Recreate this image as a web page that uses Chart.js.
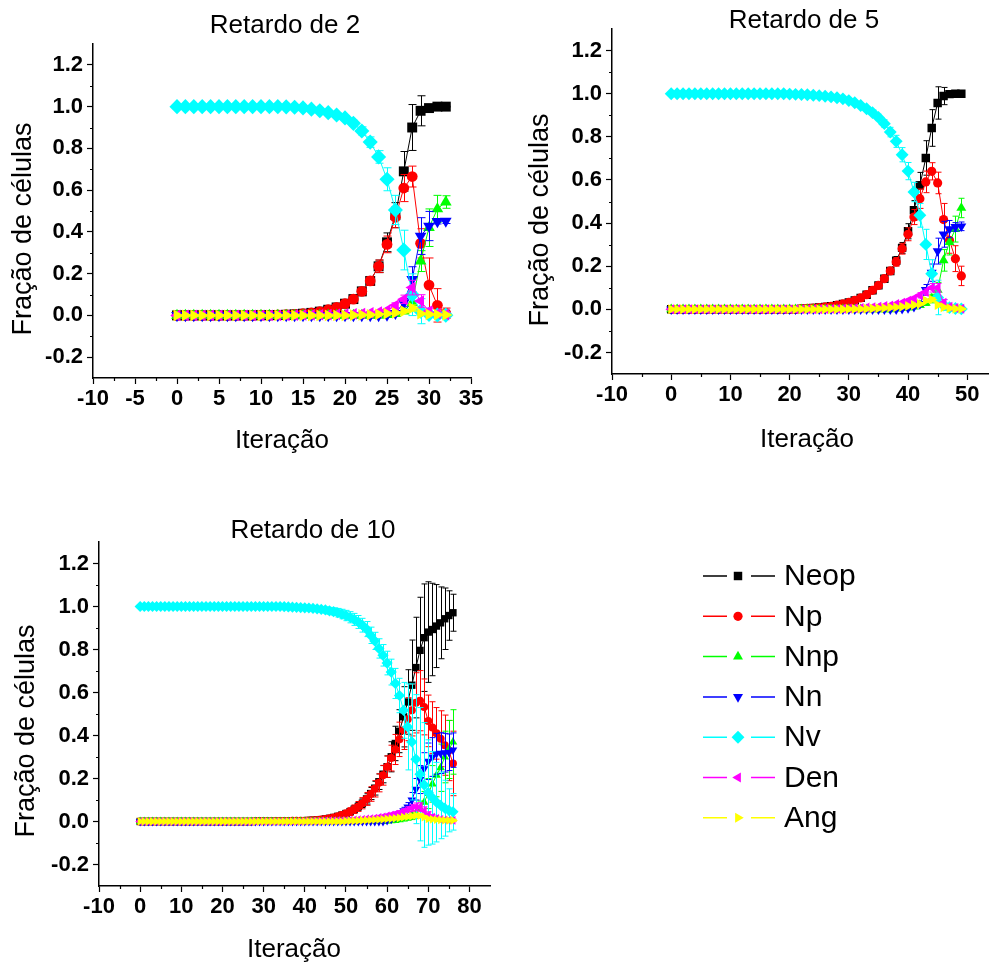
<!DOCTYPE html>
<html>
<head>
<meta charset="utf-8">
<script src="https://cdn.jsdelivr.net/npm/chart.js"></script>
<style>
body{margin:0;background:#fff;width:995px;height:967px;overflow:hidden;position:relative}
canvas{position:absolute}
</style>
</head>
<body>
<canvas id="r2" width="500" height="470" style="left:0;top:0"></canvas>
<canvas id="r5" width="495" height="470" style="left:500px;top:0"></canvas>
<canvas id="r10" width="500" height="467" style="left:0;top:500px"></canvas>
<canvas id="key" width="220" height="290" style="left:680px;top:550px"></canvas>
<script>
'use strict';
// ---------- data ----------
const seriesNames = ['Neop','Np','Nnp','Nn','Nv','Den','Ang'];
const yTicks = [-0.2,0,0.2,0.4,0.6,0.8,1.0,1.2];
const xTicksR2 = [-10,-5,0,5,10,15,20,25,30,35];
const xTicksR5 = [-10,0,10,20,30,40,50];
const xTicksR10 = [-10,0,10,20,30,40,50,60,70,80];

// Retardo de 2
const iterR2 = [0,1,2,3,4,5,6,7,8,9,10,11,12,13,14,15,16,17,18,19,20,21,22,23,24,25,26,27,28,29,30,31,32];
const neopR2 = [0,0,0,0,0,0,0,0,0,0,
 0.001,0.001,0.002,0.003,0.005,0.008,0.012,0.018,0.027,0.038,
 0.056,0.078,0.115,0.165,0.235,0.35,0.48,0.69,0.9,0.98,
 0.993,1,1];
const neopErrR2 = [0,0,0,0,0,0,0,0,0,0,
 0,0,0,0,0,0,0,0,0.003,0.004,
 0.005,0.008,0.012,0.02,0.03,0.045,0.06,0.095,0.11,0.072,
 0.015,0.004,0.002];
const npR2 = [0,0,0,0,0,0,0,0,0,0,
 0.001,0.001,0.002,0.003,0.005,0.008,0.012,0.018,0.027,0.038,
 0.056,0.078,0.115,0.165,0.235,0.34,0.47,0.61,0.665,0.345,
 0.145,0.048,0.01];
const npErrR2 = [0,0,0,0,0,0,0,0,0,0,
 0,0,0,0.005,0.005,0.005,0.005,0.006,0.006,0.007,
 0.008,0.01,0.014,0.02,0.03,0.04,0.05,0.065,0.05,0.07,
 0.13,0.08,0.025];
const nnpR2 = [0,0,0,0,0,0,0,0,0,0,
 0,0,0,0,0,0,0,0,0,0,
 0,0,0,0,0,0.003,0.008,0.02,0.06,0.26,
 0.42,0.51,0.543];
const nnpErrR2 = [0,0,0,0,0,0,0,0,0,0,
 0,0,0,0,0,0,0,0,0,0,
 0,0,0,0,0,0.002,0.004,0.01,0.03,0.05,
 0.09,0.065,0.03];
const nnR2 = [0,0,0,0,0,0,0,0,0,0,
 0,0,0,0,0,0,0,0,0,0,
 0,0,0,0,0,0.002,0.01,0.061,0.173,0.38,
 0.428,0.45,0.452];
const nnErrR2 = [0,0,0,0,0,0,0,0,0,0,
 0,0,0,0,0,0,0,0,0,0,
 0,0,0,0,0,0.002,0.005,0.02,0.06,0.088,
 0.07,0.012,0.012];
const nvR2 = [1,1,1,1,1,1,1,1,1,1,
 1,1,1,0.999,0.997,0.994,0.988,0.98,0.971,0.96,
 0.946,0.92,0.883,0.83,0.759,0.652,0.505,0.313,0.099,0.02,
 0.005,0.002,0.001];
const nvErrR2 = [0,0,0,0,0,0,0,0,0,0,
 0,0,0,0,0,0,0.003,0.005,0.007,0.01,
 0.012,0.015,0.02,0.025,0.03,0.055,0.07,0.095,0.1,0.06,
 0.01,0.005,0.003];
const denR2 = [0,0,0,0,0,0,0,0,0,0,
 0,0,0,0,0.001,0.002,0.002,0.003,0.004,0.005,
 0.006,0.007,0.009,0.012,0.016,0.025,0.048,0.077,0.133,0.069,
 0.02,0.008,0.004];
const denErrR2 = [0,0,0,0,0,0,0,0,0,0,
 0,0,0,0,0,0,0,0,0,0,
 0,0,0,0,0.005,0.008,0.012,0.02,0.035,0.03,
 0.015,0.01,0.008];
const angR2 = [0,0,0,0,0,0,0,0,0,0,
 0,0,0,0,0,0,0,0,0,0,
 0,0.001,0.002,0.003,0.005,0.008,0.012,0.02,0.035,0.008,
 0.005,0.003,0.002];
const angErrR2 = [0,0,0,0,0,0,0,0,0,0,
 0,0,0,0,0,0,0,0,0,0,
 0,0,0,0,0,0,0.005,0.008,0.015,0.005,
 0.004,0.003,0.003];

// Retardo de 5
const iterR5 = [0,1,2,3,4,5,6,7,8,9,10,11,12,13,14,15,16,17,18,19,20,21,22,23,24,25,26,27,28,29,
 30,31,32,33,34,35,36,37,38,39,40,41,42,43,44,45,46,47,48,49];
const neopR5 = [0,0,0,0,0,0,0,0,0,0,
 0,0,0,0,0,0,0,0,0,0,
 0,0,0.003,0.004,0.006,0.008,0.011,0.014,0.019,0.025,
 0.032,0.041,0.053,0.068,0.088,0.111,0.142,0.178,0.225,0.285,
 0.362,0.459,0.575,0.702,0.841,0.957,0.989,0.998,1,1];
const neopErrR5 = [0,0,0,0,0,0,0,0,0,0,
 0,0,0,0,0,0,0,0,0,0,
 0,0,0,0,0,0,0,0,0.002,0.003,
 0.003,0.004,0.005,0.006,0.008,0.01,0.012,0.015,0.02,0.025,
 0.035,0.045,0.06,0.08,0.085,0.075,0.04,0.008,0.004,0.002];
const npR5 = [0,0,0,0,0,0,0,0,0,0,
 0,0,0,0,0,0,0,0,0,0,
 0,0,0.003,0.004,0.006,0.008,0.011,0.014,0.019,0.025,
 0.032,0.041,0.053,0.068,0.088,0.111,0.142,0.178,0.22,0.281,
 0.348,0.428,0.513,0.591,0.64,0.586,0.416,0.32,0.235,0.155];
const npErrR5 = [0,0,0,0,0,0,0,0,0,0,
 0,0,0,0,0,0,0,0,0,0,
 0,0,0.004,0.004,0.004,0.004,0.004,0.004,0.005,0.005,
 0.005,0.006,0.007,0.008,0.009,0.01,0.012,0.015,0.02,0.025,
 0.03,0.035,0.045,0.05,0.04,0.05,0.075,0.06,0.06,0.045];
const nnpR5 = [0,0,0,0,0,0,0,0,0,0,
 0,0,0,0,0,0,0,0,0,0,
 0,0,0,0,0,0,0,0,0,0,
 0,0,0,0,0,0,0,0,0.003,0.005,
 0.008,0.012,0.02,0.03,0.05,0.09,0.227,0.312,0.372,0.47];
const nnpErrR5 = [0,0,0,0,0,0,0,0,0,0,
 0,0,0,0,0,0,0,0,0,0,
 0,0,0,0,0,0,0,0,0,0,
 0,0,0,0,0,0,0,0,0.002,0.003,
 0.004,0.005,0.008,0.012,0.02,0.035,0.05,0.06,0.06,0.045];
const nnR5 = [0,0,0,0,0,0,0,0,0,0,
 0,0,0,0,0,0,0,0,0,0,
 0,0,0,0,0,0,0,0,0,0,
 0,0,0,0,0,0,0,0,0,0.003,
 0.006,0.012,0.025,0.09,0.17,0.27,0.348,0.372,0.382,0.385];
const nnErrR5 = [0,0,0,0,0,0,0,0,0,0,
 0,0,0,0,0,0,0,0,0,0,
 0,0,0,0,0,0,0,0,0,0,
 0,0,0,0,0,0,0,0,0,0.002,
 0.003,0.005,0.01,0.025,0.04,0.06,0.06,0.04,0.02,0.02];
const nvR5 = [1,1,1,1,1,1,1,1,1,1,
 1,1,1,1,1,1,1,1,1,1,
 0.998,0.997,0.996,0.995,0.993,0.991,0.988,0.985,0.981,0.976,
 0.968,0.958,0.945,0.93,0.912,0.89,0.861,0.822,0.779,0.717,
 0.641,0.544,0.436,0.301,0.165,0.055,0.02,0.008,0.004,0.002];
const nvErrR5 = [0,0,0,0,0,0,0,0,0,0,
 0,0,0,0,0,0,0,0,0,0,
 0,0,0,0,0,0.002,0.002,0.003,0.003,0.004,
 0.005,0.006,0.008,0.01,0.012,0.015,0.018,0.022,0.028,0.033,
 0.04,0.045,0.055,0.07,0.065,0.08,0.025,0.01,0.005,0.003];
const denR5 = [0,0,0,0,0,0,0,0,0,0,
 0,0,0,0,0,0,0,0,0,0,
 0,0,0,0,0,0,0.001,0.002,0.002,0.003,
 0.004,0.005,0.006,0.008,0.01,0.012,0.015,0.018,0.025,0.03,
 0.04,0.05,0.065,0.08,0.1,0.1,0.03,0.012,0.006,0.003];
const denErrR5 = [0,0,0,0,0,0,0,0,0,0,
 0,0,0,0,0,0,0,0,0,0,
 0,0,0,0,0,0,0,0,0,0,
 0,0,0,0,0,0,0,0,0.005,0.006,
 0.008,0.01,0.012,0.015,0.02,0.02,0.015,0.01,0.008,0.005];
const angR5 = [0,0,0,0,0,0,0,0,0,0,
 0,0,0,0,0,0,0,0,0,0,
 0,0,0,0,0,0,0,0,0,0,
 0.001,0.002,0.002,0.003,0.004,0.005,0.006,0.008,0.01,0.012,
 0.015,0.02,0.025,0.04,0.045,0.02,0.01,0.005,0.003,0.002];
const angErrR5 = [0,0,0,0,0,0,0,0,0,0,
 0,0,0,0,0,0,0,0,0,0,
 0,0,0,0,0,0,0,0,0,0,
 0,0,0,0,0,0,0,0,0,0,
 0,0,0.005,0.008,0.01,0.008,0.005,0.003,0.002,0.002];

// Retardo de 10
const iterR10 = [0,1,2,3,4,5,6,7,8,9,10,11,12,13,14,15,16,17,18,19,20,21,22,23,24,25,26,27,28,29,
 30,31,32,33,34,35,36,37,38,39,40,41,42,43,44,45,46,47,48,49,50,51,52,53,54,55,56,57,58,59,
 60,61,62,63,64,65,66,67,68,69,70,71,72,73,74,75,76];
const neopR10 = [0,0,0,0,0,0,0,0,0,0,
 0,0,0,0,0,0,0,0,0,0,
 0,0,0,0,0,0,0,0,0.001,0.001,
 0.001,0.001,0.001,0.002,0.002,0.002,0.002,0.003,0.003,0.003,
 0.004,0.005,0.006,0.007,0.009,0.012,0.015,0.019,0.024,0.03,
 0.037,0.046,0.057,0.07,0.085,0.105,0.13,0.155,0.185,0.22,
 0.255,0.301,0.363,0.42,0.487,0.556,0.634,0.716,0.796,0.855,
 0.881,0.893,0.909,0.924,0.943,0.958,0.971];
const neopErrR10 = [0,0,0,0,0,0,0,0,0,0,
 0,0,0,0,0,0,0,0,0,0,
 0,0,0,0,0,0,0,0,0,0,
 0,0,0,0,0,0,0,0,0,0,
 0.002,0.002,0.003,0.003,0.004,0.005,0.006,0.007,0.008,0.01,
 0.012,0.014,0.016,0.018,0.02,0.024,0.028,0.032,0.036,0.04,
 0.05,0.07,0.08,0.1,0.14,0.15,0.21,0.234,0.247,0.25,
 0.234,0.215,0.193,0.167,0.143,0.115,0.086];
const npR10 = [0,0,0,0,0,0,0,0,0,0,
 0,0,0,0,0,0,0,0,0,0,
 0,0,0,0,0,0,0,0,0.001,0.001,
 0.001,0.001,0.001,0.002,0.002,0.002,0.002,0.003,0.003,0.003,
 0.004,0.005,0.006,0.007,0.009,0.012,0.015,0.019,0.024,0.03,
 0.037,0.046,0.057,0.07,0.085,0.105,0.128,0.152,0.18,0.215,
 0.255,0.295,0.335,0.382,0.425,0.476,0.518,0.552,0.562,0.533,
 0.468,0.437,0.41,0.385,0.355,0.33,0.27];
const npErrR10 = [0,0,0,0,0,0,0,0,0,0,
 0,0,0,0,0,0,0,0,0,0,
 0,0,0,0,0,0,0,0,0.004,0.004,
 0.004,0.004,0.004,0.004,0.004,0.004,0.004,0.005,0.005,0.005,
 0.005,0.006,0.006,0.007,0.008,0.009,0.01,0.011,0.012,0.014,
 0.016,0.018,0.02,0.023,0.026,0.03,0.034,0.038,0.042,0.046,
 0.05,0.06,0.07,0.08,0.09,0.1,0.12,0.14,0.14,0.13,
 0.12,0.12,0.12,0.13,0.14,0.14,0.15];
const nnpR10 = [0,0,0,0,0,0,0,0,0,0,
 0,0,0,0,0,0,0,0,0,0,
 0,0,0,0,0,0,0,0,0,0,
 0,0,0,0,0,0,0,0,0,0,
 0,0,0,0,0,0,0,0,0,0,
 0,0,0,0,0,0.001,0.001,0.001,0.001,0.001,
 0.002,0.003,0.005,0.008,0.012,0.018,0.027,0.04,0.06,0.09,
 0.13,0.175,0.215,0.25,0.3,0.335,0.37];
const nnpErrR10 = [0,0,0,0,0,0,0,0,0,0,
 0,0,0,0,0,0,0,0,0,0,
 0,0,0,0,0,0,0,0,0,0,
 0,0,0,0,0,0,0,0,0,0,
 0,0,0,0,0,0,0,0,0,0,
 0,0,0,0,0,0,0,0,0,0,
 0.002,0.003,0.004,0.006,0.008,0.012,0.018,0.025,0.035,0.05,
 0.07,0.085,0.1,0.11,0.12,0.135,0.15];
const nnR10 = [0,0,0,0,0,0,0,0,0,0,
 0,0,0,0,0,0,0,0,0,0,
 0,0,0,0,0,0,0,0,0,0,
 0,0,0,0,0,0,0,0,0,0,
 0,0,0,0,0,0,0,0,0,0,
 0,0,0,0,0,0,0,0,0,0,
 0.005,0.01,0.02,0.035,0.05,0.068,0.1,0.15,0.195,0.245,
 0.28,0.3,0.315,0.318,0.32,0.322,0.332];
const nnErrR10 = [0,0,0,0,0,0,0,0,0,0,
 0,0,0,0,0,0,0,0,0,0,
 0,0,0,0,0,0,0,0,0,0,
 0,0,0,0,0,0,0,0,0,0,
 0,0,0,0,0,0,0,0,0,0,
 0,0,0,0,0,0,0,0,0,0,
 0.003,0.005,0.008,0.012,0.016,0.02,0.035,0.05,0.065,0.075,
 0.085,0.09,0.095,0.095,0.09,0.085,0.08];
const nvR10 = [1,1,1,1,1,1,1,1,1,1,
 1,1,1,1,1,1,1,1,1,1,
 1,1,1,1,1,1,1,1,1,1,
 1,1,1,1,1,0.999,0.998,0.997,0.996,0.995,
 0.994,0.993,0.991,0.989,0.987,0.984,0.98,0.976,0.971,0.965,
 0.958,0.95,0.94,0.928,0.913,0.895,0.866,0.84,0.805,0.773,
 0.737,0.695,0.642,0.586,0.517,0.44,0.37,0.29,0.22,0.17,
 0.135,0.11,0.09,0.075,0.062,0.052,0.045];
const nvErrR10 = [0,0,0,0,0,0,0,0,0,0,
 0,0,0,0,0,0,0,0,0,0,
 0,0,0,0,0,0,0,0,0,0,
 0,0,0,0,0,0.002,0.003,0.004,0.005,0.006,
 0.007,0.008,0.009,0.01,0.012,0.014,0.016,0.018,0.02,0.022,
 0.024,0.026,0.028,0.03,0.032,0.035,0.038,0.04,0.045,0.05,
 0.055,0.06,0.07,0.08,0.13,0.2,0.27,0.3,0.31,0.29,
 0.245,0.215,0.185,0.155,0.13,0.1,0.085];
const denR10 = [0,0,0,0,0,0,0,0,0,0,
 0,0,0,0,0,0,0,0,0,0,
 0,0,0,0,0,0,0,0,0,0,
 0,0,0,0,0,0,0,0,0,0,
 0.001,0.001,0.002,0.002,0.003,0.003,0.004,0.004,0.005,0.005,
 0.006,0.007,0.008,0.009,0.01,0.012,0.014,0.016,0.019,0.022,
 0.026,0.03,0.035,0.04,0.047,0.055,0.062,0.068,0.067,0.05,
 0.03,0.02,0.015,0.01,0.008,0.006,0.005];
const denErrR10 = [0,0,0,0,0,0,0,0,0,0,
 0,0,0,0,0,0,0,0,0,0,
 0,0,0,0,0,0,0,0,0,0,
 0,0,0,0,0,0,0,0,0,0,
 0,0,0,0,0,0,0,0,0,0,
 0.003,0.003,0.004,0.004,0.005,0.005,0.006,0.006,0.007,0.007,
 0.008,0.009,0.01,0.011,0.012,0.014,0.016,0.018,0.02,0.018,
 0.015,0.012,0.01,0.008,0.007,0.006,0.006];
const angR10 = [0,0,0,0,0,0,0,0,0,0,
 0,0,0,0,0,0,0,0,0,0,
 0,0,0,0,0,0,0,0,0,0,
 0,0,0,0,0,0,0,0,0,0,
 0,0,0,0,0,0,0,0,0,0,
 0.002,0.003,0.003,0.004,0.005,0.006,0.007,0.008,0.009,0.01,
 0.012,0.013,0.015,0.017,0.02,0.022,0.025,0.028,0.027,0.02,
 0.012,0.01,0.008,0.007,0.006,0.005,0.005];
const angErrR10 = [0,0,0,0,0,0,0,0,0,0,
 0,0,0,0,0,0,0,0,0,0,
 0,0,0,0,0,0,0,0,0,0,
 0,0,0,0,0,0,0,0,0,0,
 0,0,0,0,0,0,0,0,0,0,
 0,0,0,0,0,0.002,0.002,0.003,0.003,0.003,
 0.004,0.004,0.005,0.005,0.006,0.006,0.007,0.008,0.008,0.007,
 0.006,0.005,0.005,0.005,0.005,0.005,0.005];

// ---------- styles ----------
const FONT = '"Liberation Sans", Arial, sans-serif';
const seriesColors = ['#000000','#ff0000','#00ff00','#0000ff','#00ffff','#ff00ff','#ffff00'];
const pointStyles = ['rect','circle','triangle','triangle','rectRot','triangle','triangle'];
const pointRotations = [0,0,0,180,0,-90,90];
const pointScale = [1.3,1,1.25,1.25,1.4,1.25,1.25];

// error bars, drawn under each dataset's own markers
const errorBars = {
  id: 'errorBars',
  beforeDatasetDraw(chart, args, opts) {
    const ds = chart.data.datasets[args.index];
    if (!ds.errors) return;
    const ctx = chart.ctx, ys = chart.scales.y, cap = opts.cap || 4;
    ctx.save();
    ctx.strokeStyle = ds.borderColor;
    ctx.lineWidth = 1;
    ctx.beginPath();
    args.meta.data.forEach((el, i) => {
      const e = ds.errors[i];
      if (!e) return;
      const v = ds.data[i].y;
      const top = ys.getPixelForValue(v + e), bot = ys.getPixelForValue(v - e);
      const px = Math.round(el.x) + 0.5;
      ctx.moveTo(px, top); ctx.lineTo(px, bot);
      ctx.moveTo(px - cap, top); ctx.lineTo(px + cap, top);
      ctx.moveTo(px - cap, bot); ctx.lineTo(px + cap, bot);
    });
    ctx.stroke();
    ctx.restore();
  }
};

// minor ticks halfway between the labelled ones
const minorTicks = {
  id: 'minorTicks',
  afterDraw(chart, args, opts) {
    const ctx = chart.ctx, len = opts.length || 3;
    ctx.save();
    ctx.strokeStyle = '#000';
    ctx.lineWidth = 1.2;
    ctx.beginPath();
    ['x', 'y'].forEach(id => {
      const s = chart.scales[id];
      const vals = s.ticks.map(t => t.value);
      const step = vals[1] - vals[0];
      const mids = vals.map(v => v + step / 2).concat([vals[0] - step / 2]);
      mids.forEach(m => {
        if (m <= s.min + 1e-9 || m >= s.max - 1e-9) return;
        const p = Math.round(s.getPixelForValue(m)) + 0.5;
        if (id === 'x') { ctx.moveTo(p, s.top); ctx.lineTo(p, s.top + len); }
        else { ctx.moveTo(s.right, p); ctx.lineTo(s.right - len, p); }
      });
    });
    ctx.stroke();
    ctx.restore();
  }
};

// panel title and axis titles
const panelText = {
  id: 'panelText',
  afterDraw(chart, args, o) {
    const ctx = chart.ctx;
    ctx.save();
    ctx.fillStyle = '#000';
    ctx.textAlign = 'center';
    ctx.textBaseline = 'middle';
    ctx.font = '26px ' + FONT;
    ctx.fillText(o.title, o.titleX, o.titleY);
    ctx.fillText('Iteração', o.xTitleX, o.xTitleY);
    ctx.translate(o.yTitleX, o.yTitleY);
    ctx.rotate(-Math.PI / 2);
    ctx.font = '27px ' + FONT;
    ctx.fillText('Fração de células', 0, 0);
    ctx.restore();
  }
};

function makePanel(id, p) {
  const datasets = p.values.map((vals, k) => ({
    label: seriesNames[k],
    data: p.iters.map((x, i) => ({x: x, y: vals[i]})),
    errors: p.errors[k],
    borderColor: seriesColors[k],
    backgroundColor: seriesColors[k],
    pointBackgroundColor: seriesColors[k],
    pointBorderColor: seriesColors[k],
    pointBorderWidth: 0,
    pointStyle: pointStyles[k],
    pointRotation: pointRotations[k],
    pointRadius: p.radius * pointScale[k],
    borderWidth: 1,
    tension: 0,
    order: 7 - k
  }));
  const tickFont = {family: FONT, size: 22, weight: 'bold'};
  const grid = {display: true, drawOnChartArea: false, drawTicks: true, tickLength: 6, tickColor: '#000', tickWidth: 1.2};
  return new Chart(document.getElementById(id), {
    type: 'line',
    data: {datasets: datasets},
    options: {
      responsive: false,
      animation: false,
      devicePixelRatio: 1,
      events: [],
      layout: {padding: p.padding},
      scales: {
        x: {
          type: 'linear', min: p.xMin, max: p.xMax,
          afterBuildTicks: s => { s.ticks = p.xTicks.map(v => ({value: v})); },
          afterFit: s => { s.height = p.xH; },
          grid: grid,
          border: {display: true, color: '#000', width: 1.5},
          ticks: {color: '#000', font: tickFont, padding: 2, autoSkip: false, maxRotation: 0,
                  callback: v => String(v)}
        },
        y: {
          type: 'linear', min: -0.3, max: 1.3,
          afterBuildTicks: s => { s.ticks = yTicks.map(v => ({value: v})); },
          afterFit: s => { s.width = p.yW; },
          grid: grid,
          border: {display: true, color: '#000', width: 1.5},
          ticks: {color: '#000', font: tickFont, padding: 4, callback: v => v.toFixed(1)}
        }
      },
      plugins: {
        legend: {display: false},
        tooltip: {enabled: false},
        errorBars: {cap: p.cap},
        minorTicks: {length: 3},
        panelText: p.text
      }
    },
    plugins: [errorBars, minorTicks, panelText]
  });
}

makePanel('r2', {
  iters: iterR2,
  values: [neopR2, npR2, nnpR2, nnR2, nvR2, denR2, angR2],
  errors: [neopErrR2, npErrR2, nnpErrR2, nnErrR2, nvErrR2, denErrR2, angErrR2],
  xMin: -10, xMax: 35, xTicks: xTicksR2,
  padding: {top: 44, right: 29, bottom: 0, left: 0}, yW: 93, xH: 92,
  radius: 5.4, cap: 4,
  text: {title: 'Retardo de 2', titleX: 285, titleY: 26, xTitleX: 282, xTitleY: 441, yTitleX: 24, yTitleY: 229}
});
makePanel('r5', {
  iters: iterR5,
  values: [neopR5, npR5, nnpR5, nnR5, nvR5, denR5, angR5],
  errors: [neopErrR5, npErrR5, nnpErrR5, nnErrR5, nvErrR5, denErrR5, angErrR5],
  xMin: -10, xMax: 53.6, xTicks: xTicksR5,
  padding: {top: 29, right: 0, bottom: 0, left: 0}, yW: 112, xH: 96,
  radius: 4.6, cap: 3,
  text: {title: 'Retardo de 5', titleX: 304, titleY: 21, xTitleX: 307, xTitleY: 440, yTitleX: 41, yTitleY: 220}
});
makePanel('r10', {
  iters: iterR10,
  values: [neopR10, npR10, nnpR10, nnR10, nvR10, denR10, angR10],
  errors: [neopErrR10, npErrR10, nnpErrR10, nnErrR10, nvErrR10, denErrR10, angErrR10],
  xMin: -10, xMax: 85, xTicks: xTicksR10,
  padding: {top: 42, right: 10, bottom: 0, left: 0}, yW: 99, xH: 81,
  radius: 4, cap: 3,
  text: {title: 'Retardo de 10', titleX: 313, titleY: 31, xTitleX: 294, xTitleY: 450, yTitleX: 27, yTitleY: 231}
});

// ---------- key ----------
const seriesKey = {
  id: 'seriesKey',
  afterDraw(chart, args, o) {
    const ctx = chart.ctx;
    const draw = (Chart.helpers && Chart.helpers.drawPoint) ? Chart.helpers.drawPoint : null;
    chart.data.datasets.forEach((ds, i) => {
      const y = o.top + i * o.step;
      ctx.save();
      ctx.strokeStyle = ds.borderColor;
      ctx.lineWidth = 1.5;
      ctx.beginPath();
      ctx.moveTo(o.x0, y); ctx.lineTo(o.x1, y);
      ctx.moveTo(o.x2, y); ctx.lineTo(o.x3, y);
      ctx.stroke();
      ctx.fillStyle = ds.pointBackgroundColor;
      if (draw) {
        draw(ctx, {pointStyle: ds.pointStyle, rotation: ds.pointRotation, radius: ds.pointRadius, borderWidth: 0}, o.xm, y);
      } else {
        ctx.beginPath(); ctx.arc(o.xm, y, ds.pointRadius, 0, Math.PI * 2); ctx.fill();
      }
      ctx.fillStyle = '#000';
      ctx.font = '30px ' + FONT;
      ctx.textAlign = 'left';
      ctx.textBaseline = 'middle';
      ctx.fillText(ds.label, o.tx, y + 1);
      ctx.restore();
    });
  }
};

new Chart(document.getElementById('key'), {
  type: 'line',
  data: {
    datasets: seriesNames.map((n, k) => ({
      label: n, data: [],
      borderColor: seriesColors[k],
      pointBackgroundColor: seriesColors[k],
      pointStyle: pointStyles[k],
      pointRotation: pointRotations[k],
      pointRadius: 4.6 * pointScale[k]
    }))
  },
  options: {
    responsive: false, animation: false, devicePixelRatio: 1, events: [],
    scales: {x: {display: false}, y: {display: false}},
    plugins: {
      legend: {display: false}, tooltip: {enabled: false},
      seriesKey: {top: 26, step: 40.3, x0: 23, x1: 47, xm: 58, x2: 71, x3: 95, tx: 104}
    }
  },
  plugins: [seriesKey]
});
</script>
</body>
</html>
